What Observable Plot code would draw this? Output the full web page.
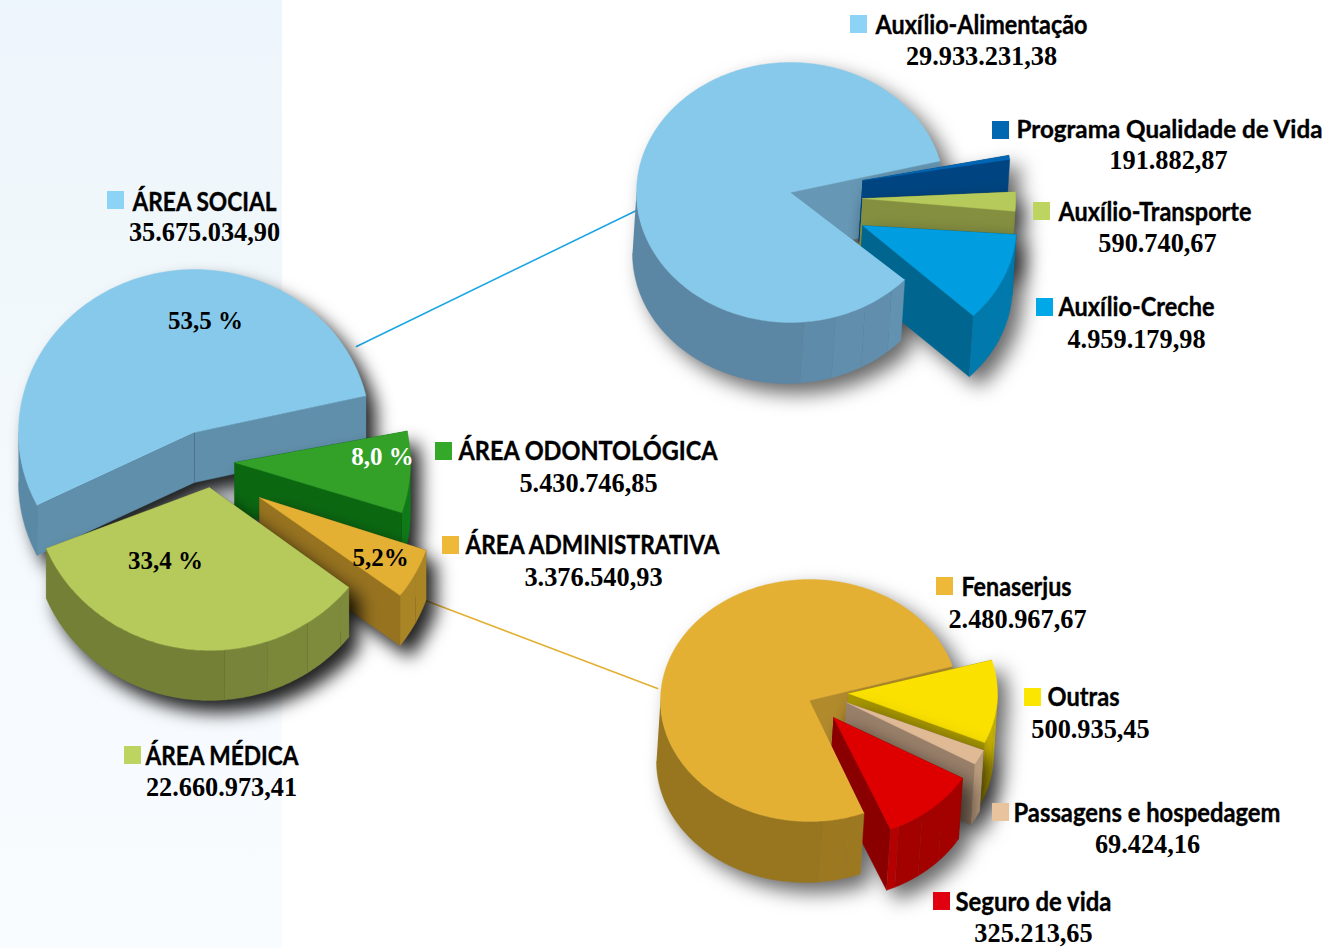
<!DOCTYPE html>
<html><head><meta charset="utf-8">
<script src="https://cdn.jsdelivr.net/npm/d3@7"></script>
<script src="https://cdn.jsdelivr.net/npm/@observablehq/plot@0.6"></script>
<style>
html,body{margin:0;padding:0;background:#fff}
#wrap{position:relative;width:1331px;height:948px;overflow:hidden}
#band{position:absolute;left:0;top:0;width:282px;height:948px;background:linear-gradient(180deg,#eef6fd 0%,#f0f7fb 22%,#f3f9fd 50%,#f7fbff 75%,#f8fcff 100%)}
#chart{position:absolute;left:0;top:0}
#chart svg{background:transparent;display:block}
</style></head><body>
<div id="wrap"><div id="band"></div><div id="chart"></div></div>
<script>
// ---- data ----
const areaNames = ["ÁREA SOCIAL","ÁREA ODONTOLÓGICA","ÁREA ADMINISTRATIVA","ÁREA MÉDICA"];
const areaValues = [35675034.90,5430746.85,3376540.93,22660973.41];
const areaPercents = ["53,5 %","8,0 %","5,2%","33,4 %"];
const socialNames = ["Auxílio-Alimentação","Programa Qualidade de Vida","Auxílio-Transporte","Auxílio-Creche"];
const socialValues = [29933231.38,191882.87,590740.67,4959179.98];
const adminNames = ["Fenaserjus","Outras","Passagens e hospedagem","Seguro de vida"];
const adminValues = [2480967.67,500935.45,69424.16,325213.65];

const fmt = v => v.toLocaleString("de-DE",{minimumFractionDigits:2,maximumFractionDigits:2});
const total = a => d3.sum(a);

// ---- layout and styling (not data) ----
const pies = [
 {id:"area",values:areaValues,rx:176,ry:163,depth:50,shear:0,bandStep:14.4,shadow:{dx:10,dy:12,blur:9,op:.88},slices:[
  {i:0,ax:194,ay:432,start:13,k:1.012,top:"#87c9ea",radial:"#608fab",wall:["#5a89a6","#5f8fad"]},
  {i:1,ax:234,ay:462,start:342,k:1,top:"#33a128",radial:"#0b6811",wall:["#0e7a18","#0e7a18"]},
  {i:2,ax:259,ay:497,start:323,k:1,top:"#e3b034",radial:"#977320",wall:["#a98526","#a98526"]},
  {i:3,ax:209,ay:487,start:202,k:.99,top:"#b5ca5a",radial:"#758037",wall:["#758037","#84933f"]}]},
 {id:"social",values:socialValues,rx:154,ry:130,depth:61,shear:-4,bandStep:12,shadow:{dx:10,dy:10,blur:10,op:.6},slices:[
  {i:0,ax:790,ay:192,start:14,k:1.006,late:true,top:"#87c9ea",radial:"#6697b4",wall:["#5b87a5","#6899b7"]},
  {i:1,ax:862,ay:180,start:9.6,k:1,r:.97,top:"#0066b3",radial:"#004581",wall:["#004581","#004581"]},
  {i:2,ax:862,ay:198,start:354.3,k:1.45,r:.995,top:"#b5ca5a",radial:"#848f40",wall:["#848f40","#848f40"]},
  {i:3,ax:862,ay:225,start:316,k:.8,top:"#009ee0",radial:"#006690",wall:["#0079ad","#0079ad"]}]},
 {id:"admin",values:adminValues,rx:149,ry:121,depth:61,shear:-4,bandStep:10.5,shadow:{dx:10,dy:10,blur:10,op:.6},slices:[
  {i:0,ax:809,ay:700,start:16.4,k:1.04,late:true,top:"#e3b034",radial:"#b18a2c",wall:["#98761f","#ab8627"]},
  {i:1,ax:848,ay:693,start:336,k:.75,top:"#fae100",radial:"#a89700",wall:["#c4ae00","#c4ae00"]},
  {i:2,ax:846,ay:702,start:329.4,k:1,top:"#e0b995",radial:"#99806a",wall:["#b89a7c","#b89a7c"]},
  {i:3,ax:833,ay:717,start:292.5,k:1.08,split:300,top:"#de0000",radial:"#8a0000",wall:["#b30000","#a30000"]}]}
];
const connectors = [
 {id:"c1",color:"#1ba6e4",from:[356,346],to:[636,210]},
 {id:"c2",color:"#e3b034",from:[425,600],to:[657,688]}
];
const labelLayout = [
 {name:areaNames[0],value:areaValues[0],sq:[107,191],lx:132,ly:210,w:144,fs:26,nx:204,ny:240,color:"#8dd3f5"},
 {name:areaNames[1],value:areaValues[1],sq:[435,442],lx:458,ly:459,w:259,fs:26,nx:588,ny:491,color:"#33a829"},
 {name:areaNames[2],value:areaValues[2],sq:[442,536],lx:465,ly:553,w:254,fs:26,nx:593,ny:585,color:"#eeb838"},
 {name:areaNames[3],value:areaValues[3],sq:[124,746],lx:145,ly:764,w:153,fs:26,nx:221,ny:795,color:"#bdd460"},
 {name:socialNames[0],value:socialValues[0],sq:[850,15],lx:875,ly:33,w:212,fs:26,nx:981,ny:64,color:"#8dd3f5"},
 {name:socialNames[1],value:socialValues[1],sq:[992,121],lx:1016,ly:137,w:306,fs:24,nx:1168,ny:168,color:"#0067b1"},
 {name:socialNames[2],value:socialValues[2],sq:[1033,202],lx:1058,ly:220,w:193,fs:26,nx:1157,ny:251,color:"#bdd460"},
 {name:socialNames[3],value:socialValues[3],sq:[1036,298],lx:1058,ly:315,w:156,fs:26,nx:1136,ny:347,color:"#00a8e8"},
 {name:adminNames[0],value:adminValues[0],sq:[936,577],lx:961,ly:595,w:110,fs:26,nx:1017,ny:627,color:"#eeb838"},
 {name:adminNames[1],value:adminValues[1],sq:[1024,688],lx:1047,ly:705,w:72,fs:26,nx:1090,ny:737,color:"#fae600"},
 {name:adminNames[2],value:adminValues[2],sq:[992,803],lx:1013,ly:821,w:267,fs:26,nx:1147,ny:852,color:"#e8c39e"},
 {name:adminNames[3],value:adminValues[3],sq:[933,892],lx:955,ly:910,w:156,fs:26,nx:1033,ny:941,color:"#e1000f"}
];
const pctLayout = [
 {text:areaPercents[0],x:205,y:328,color:"#000"},
 {text:areaPercents[3],x:165,y:568,color:"#000"},
 {text:areaPercents[1],x:382,y:464,color:"#fff"},
 {text:areaPercents[2],x:380,y:565,color:"#000"}
];

// ---- geometry derived from the values ----
const rad = d => d*Math.PI/180;
function faces(pie,s,key){
  const sweep = pie.values[s.i]/total(pie.values)*360*s.k;
  const a0=s.start,a1=s.start+sweep,rs=s.r||1;
  const P=a=>[s.ax+pie.rx*rs*Math.cos(rad(a)),s.ay-pie.ry*rs*Math.sin(rad(a))];
  const D=p=>[p[0]+pie.shear,p[1]+pie.depth];
  const A=[s.ax,s.ay];
  const arc=(u,v)=>{const n=Math.max(2,Math.ceil(Math.abs(v-u)));return d3.range(n+1).map(j=>P(u+(v-u)*j/n));};
  const radial=[],front=[];
  const poly=(out,id,pts,fill)=>pts.forEach(p=>out.push({id:key+id,x:p[0],y:p[1],fill}));
  poly(radial,"r0",[A,P(a0),D(P(a0)),D(A)],s.radial);
  poly(radial,"r1",[A,P(a1),D(P(a1)),D(A)],s.radial);
  const marks=[a0,a1];
  for(const b of [180,360,540,720]) if(b>a0&&b<a1) marks.push(b);
  for(let b=275;b<720;b+=pie.bandStep) if(b>a0&&b<a1) marks.push(b);
  marks.sort((p,q)=>p-q);
  const col=d3.interpolateRgb(s.wall[0],s.wall[1]);
  marks.slice(1).forEach((v,j)=>{
    const u=marks[j],m=(u+v)/2;
    if(Math.sin(rad(m))>=0) return;
    const mm=((m%360)+360)%360;
    const t=Math.max(0,Math.min(1,(mm-270)/75));
    const fill=s.split? (mm<s.split?s.wall[0]:s.wall[1]) : d3.color(col(Math.round(t*5)/5)).formatHex();
    const top=arc(u,v);
    poly(front,"w"+j,[...top,...top.slice().reverse().map(D)],fill);
  });
  poly(front,"t",[A,...arc(a0,a1)],s.top);
  return {radial,front};
}
const faceMark=rows=>Plot.line(rows,{x:"x",y:"y",z:"id",fill:"fill",stroke:"fill",strokeWidth:.4});

const marks=[];
connectors.forEach(c=>marks.push(Plot.line([c.from,c.to],{x:d=>d[0],y:d=>d[1],stroke:c.color,strokeWidth:1.6})));
pies.forEach((pie,pi)=>{
  const late=[];
  pie.slices.forEach((s,si)=>{
    const {radial,front}=faces(pie,s,`${pi}-${si}-`);
    const sh=pie.shadow;
    marks.push(Plot.line([...radial,...front],{x:"x",y:"y",z:"id",fill:"#000",stroke:"none",dx:sh.dx,dy:sh.dy,imageFilter:`blur(${sh.blur}px) opacity(${sh.op})`}));
    if(s.late){ marks.push(faceMark(radial)); late.push(front); }
    else marks.push(faceMark([...radial,...front]));
  });
  late.forEach(rows=>marks.push(faceMark(rows)));
});
const squareW=17,squareH=18;
marks.push(Plot.rect(labelLayout,{x1:d=>d.sq[0],x2:d=>d.sq[0]+squareW,y1:d=>d.sq[1],y2:d=>d.sq[1]+squareH,fill:"color"}));
const labelFont="Lato",numFont="Liberation Serif";
marks.push(Plot.text(labelLayout,{x:"lx",y:"ly",text:"name",textAnchor:"start",lineAnchor:"bottom",fontFamily:labelFont,fontWeight:700,fontSize:"fs",fill:"#000",stroke:"#000",strokeWidth:.35}));
marks.push(Plot.text(labelLayout,{x:"nx",y:"ny",text:d=>fmt(d.value),textAnchor:"middle",lineAnchor:"bottom",fontFamily:numFont,fontWeight:700,fontSize:26.3,fill:"#000"}));
marks.push(Plot.text(pctLayout,{x:"x",y:"y",text:"text",textAnchor:"middle",lineAnchor:"bottom",fontFamily:numFont,fontWeight:700,fontSize:25,fill:"color"}));

const plot=Plot.plot({width:1331,height:948,margin:0,axis:null,
  style:{background:"transparent"},
  x:{domain:[0,1331],range:[0,1331]},y:{domain:[0,948],range:[0,948]},
  color:{type:"identity"},marks});
// fit the condensed legend names to their measured widths
const widths=new Map(labelLayout.map(d=>[d.name,d.w]));
plot.querySelectorAll("text").forEach(t=>{
  const w=widths.get(t.textContent);
  if(w){t.setAttribute("textLength",w);t.setAttribute("lengthAdjust","spacingAndGlyphs");}
});
document.getElementById("chart").appendChild(plot);
</script>
</body></html>
